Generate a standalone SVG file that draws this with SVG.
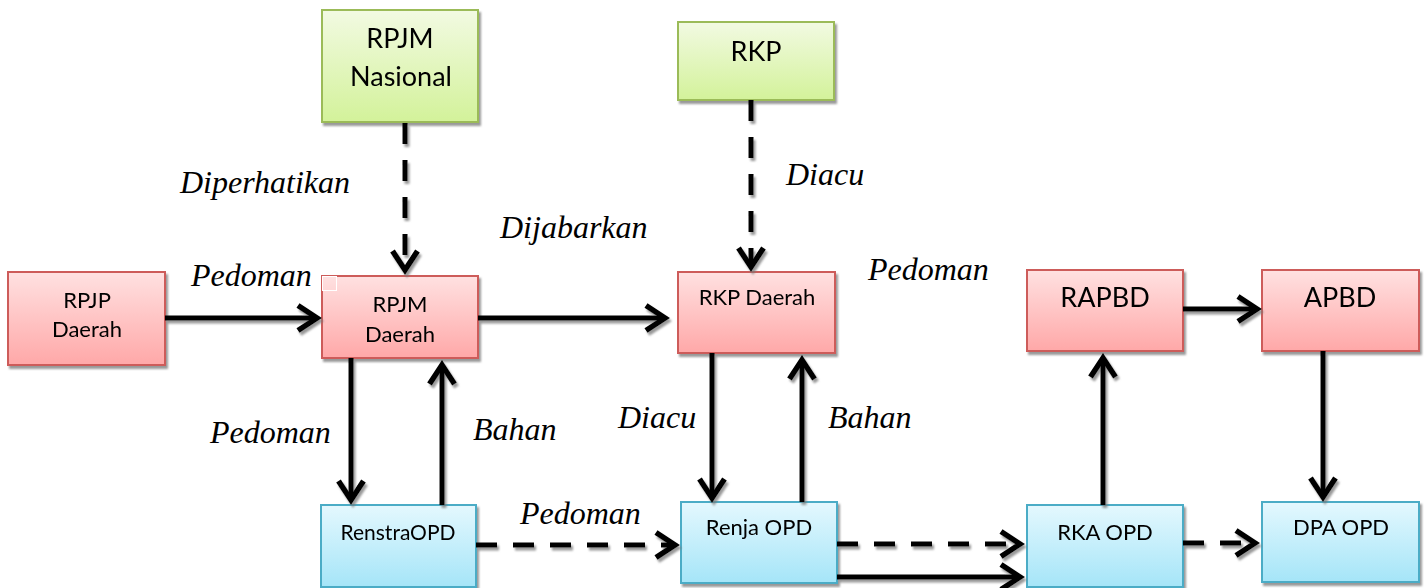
<svg xmlns="http://www.w3.org/2000/svg" width="1426" height="588" viewBox="0 0 1426 588">
<defs>
<linearGradient id="gRed" x1="0" y1="0" x2="0" y2="1"><stop offset="0" stop-color="#FFE1E1"/><stop offset="1" stop-color="#FFA8A8"/></linearGradient>
<linearGradient id="gGreen" x1="0" y1="0" x2="0" y2="1"><stop offset="0" stop-color="#F2FAE2"/><stop offset="1" stop-color="#D3F29A"/></linearGradient>
<linearGradient id="gBlue" x1="0" y1="0" x2="0" y2="1"><stop offset="0" stop-color="#E4F8FE"/><stop offset="1" stop-color="#A5E5F8"/></linearGradient>
<filter id="sh" x="-20%" y="-20%" width="140%" height="140%"><feDropShadow dx="2" dy="3" stdDeviation="0.8" flood-color="#777" flood-opacity="0.75"/></filter>
<marker id="ah" markerUnits="userSpaceOnUse" markerWidth="44" markerHeight="44" viewBox="-32 -22 44 44" refX="0" refY="0" orient="auto" overflow="visible">
<path d="M -19 -12.5 L 0 0 L -19 12.5" fill="none" stroke="#000" stroke-width="5.5" stroke-linejoin="miter" stroke-miterlimit="10"/>
</marker>
<style>
.red{fill:url(#gRed);stroke:#CD5C5A;stroke-width:2}
.green{fill:url(#gGreen);stroke:#9BBB59;stroke-width:2}
.blue{fill:url(#gBlue);stroke:#4BACC6;stroke-width:2}
.nt{font-family:Lato,"Open Sans","Liberation Sans",sans-serif;fill:#000;text-anchor:middle}
.lb{font-family:"Liberation Serif","DejaVu Serif",serif;font-style:italic;font-size:32px;fill:#000}
.c{fill:none;stroke:#000;stroke-width:5;marker-end:url(#ah)}
.d{stroke-dasharray:21 16}
</style>
</defs>

<g id="nodes" filter="url(#sh)">
<g id="rpjm-nasional"><rect class="green" x="322" y="10" width="156" height="112"/><text class="nt" x="400" y="48" font-size="27">RPJM</text><text class="nt" x="401" y="86" font-size="27">Nasional</text></g>
<g id="rkp"><rect class="green" x="678" y="22" width="156" height="78"/><text class="nt" x="756" y="61" font-size="27">RKP</text></g>
<g id="rpjp-daerah"><rect class="red" x="8" y="272" width="157" height="93"/><text class="nt" x="87" y="308" font-size="22">RPJP</text><text class="nt" x="87" y="337" font-size="22">Daerah</text></g>
<g id="rpjm-daerah"><rect class="red" x="322" y="276" width="156" height="82"/><text class="nt" x="400" y="312" font-size="22">RPJM</text><text class="nt" x="400" y="342" font-size="22">Daerah</text></g>
<g id="rkp-daerah"><rect class="red" x="678" y="272" width="157" height="81"/><text class="nt" x="757" y="305" font-size="22">RKP Daerah</text></g>
<g id="rapbd"><rect class="red" x="1027" y="270" width="156" height="81"/><text class="nt" x="1105" y="307" font-size="27">RAPBD</text></g>
<g id="apbd"><rect class="red" x="1262" y="270" width="157" height="81"/><text class="nt" x="1340" y="307" font-size="27">APBD</text></g>
<g id="renstra-opd"><rect class="blue" x="321" y="505" width="155" height="82"/><text class="nt" x="398" y="540" font-size="21">RenstraOPD</text></g>
<g id="renja-opd"><rect class="blue" x="681" y="502" width="156" height="81"/><text class="nt" x="759" y="535" font-size="22">Renja OPD</text></g>
<g id="rka-opd"><rect class="blue" x="1027" y="505" width="156" height="82"/><text class="nt" x="1105" y="540" font-size="22">RKA OPD</text></g>
<g id="dpa-opd"><rect class="blue" x="1262" y="502" width="157" height="80"/><text class="nt" x="1341" y="535" font-size="22">DPA OPD</text></g>
</g>
<rect x="322.5" y="276.5" width="14" height="14" fill="none" stroke="#fff" stroke-width="1"/>

<g id="connectors" filter="url(#sh)">
<path class="c" d="M165 318 H317"/>
<path class="c d" d="M405 123 V270"/>
<path class="c" d="M478 318 H665"/>
<path class="c d" d="M751 100 V267"/>
<path class="c" d="M351 358 V500"/>
<path class="c" d="M442 505 V365"/>
<path class="c" d="M712 353 V498"/>
<path class="c" d="M802 502 V360"/>
<path class="c d" d="M476 545 H675"/>
<path class="c d" d="M837 544 H1020"/>
<path class="c" d="M837 577 H1020"/>
<path class="c d" d="M1183 543 H1255"/>
<path class="c" d="M1103 505 V358"/>
<path class="c" d="M1183 309 H1257"/>
<path class="c" d="M1323 351 V497"/>
</g>

<g id="labels">
<text class="lb" x="180" y="193">Diperhatikan</text>
<text class="lb" x="500" y="238">Dijabarkan</text>
<text class="lb" x="786" y="185">Diacu</text>
<text class="lb" x="191" y="286">Pedoman</text>
<text class="lb" x="868" y="280">Pedoman</text>
<text class="lb" x="210" y="443">Pedoman</text>
<text class="lb" x="473" y="440">Bahan</text>
<text class="lb" x="618" y="428">Diacu</text>
<text class="lb" x="828" y="428">Bahan</text>
<text class="lb" x="520" y="524">Pedoman</text>
</g>
</svg>
